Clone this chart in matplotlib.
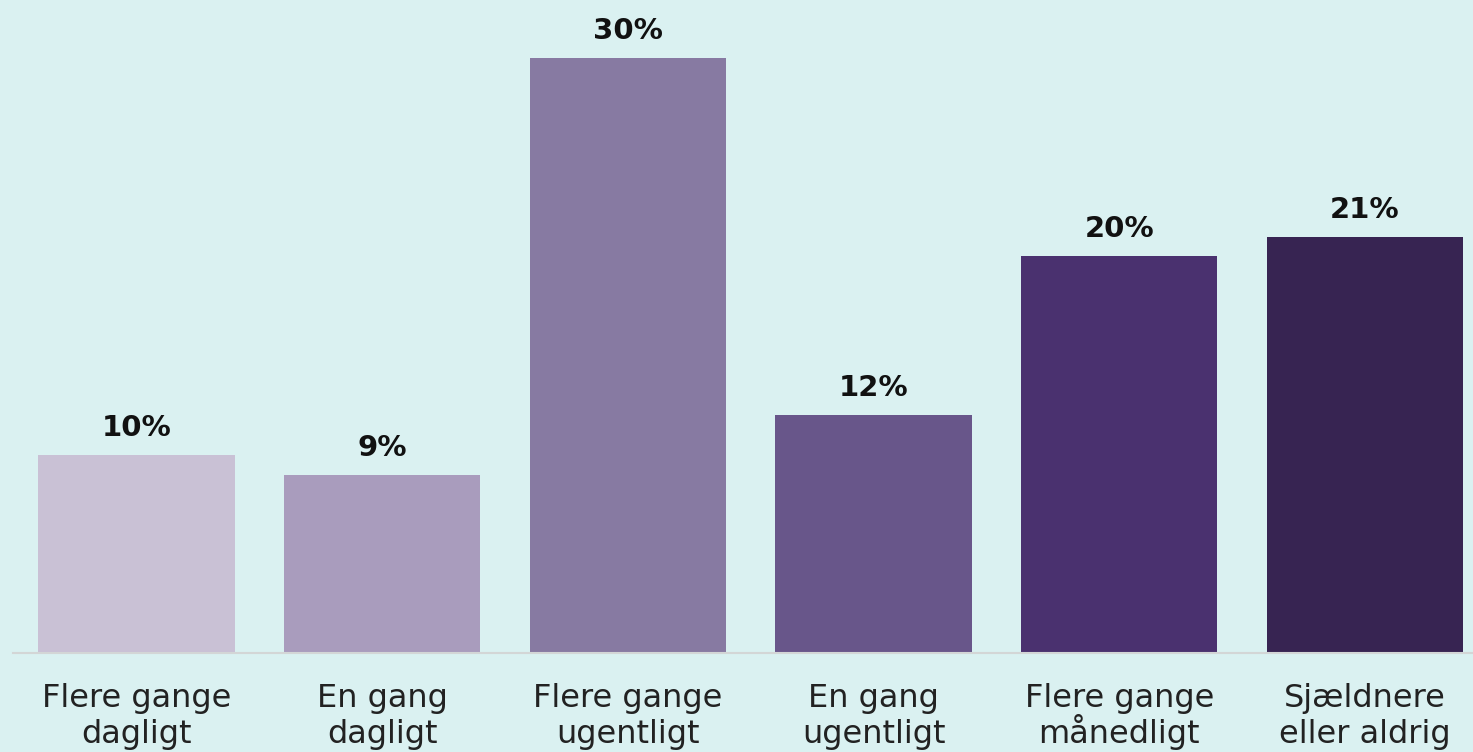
import matplotlib
matplotlib.use("Agg")
import matplotlib.pyplot as plt
from matplotlib.transforms import blended_transform_factory

categories = ["Flere gange\ndagligt", "En gang\ndagligt", "Flere gange\nugentligt",
              "En gang\nugentligt", "Flere gange\nmånedligt", "Sjældnere\neller aldrig"]
values = [10, 9, 30, 12, 20, 21]
colors = ["#C9C1D5", "#A99CBD", "#877AA2", "#68568A", "#4A316F", "#372452"]
bg = "#DAF1F1"

plt.rcParams['font.family'] = ['DejaVu Sans']

W, H = 1473, 752
fig = plt.figure(figsize=(W / 100, H / 100), dpi=100, facecolor=bg)
ax = fig.add_axes([13 / W, (H - 653) / H, 1 - 13 / W, 653 / H])
ax.set_facecolor(bg)

x = list(range(len(values)))
ax.bar(x, values, width=0.8, color=colors)
ax.set_xlim(-0.5025, 5.44)
ax.set_ylim(0, 32.93)

for xi, v in zip(x, values):
    ax.annotate(f"{v}%", (xi, v), xytext=(0, 13.7), textcoords="offset points",
                ha="center", va="baseline", fontsize=21, fontweight="bold", color="#111111")

for s in ["top", "right", "left"]:
    ax.spines[s].set_visible(False)
ax.spines["bottom"].set_color("#D3D6D6")
ax.spines["bottom"].set_linewidth(1.5)
ax.set_yticks([])
ax.set_xticks(x)
ax.set_xticklabels([])
ax.tick_params(axis="x", length=0)

# category labels: two lines, fixed baselines
trans = blended_transform_factory(ax.transData, fig.transFigure)
for xi, lab in zip(x, categories):
    lines = lab.split("\n")
    for li, (txt, base) in enumerate(zip(lines, [707, 743])):
        ax.text(xi, (H - base) / H, txt, transform=trans, ha="center", va="baseline",
                fontsize=23, color="#222222", clip_on=False)

fig.savefig("out.png", dpi=100, facecolor=bg)
